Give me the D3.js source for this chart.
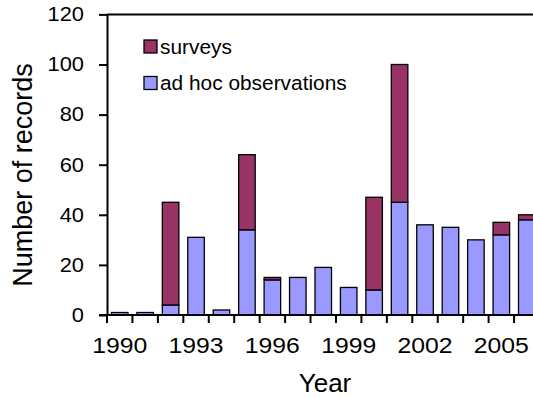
<!DOCTYPE html>
<html>
<head>
<meta charset="utf-8">
<script src="https://cdn.jsdelivr.net/npm/d3@7"></script>
<style>
  html, body { margin: 0; padding: 0; background: #fff; overflow: hidden; }
  svg { display: block; }
  text { font-family: "Liberation Sans", Arial, Helvetica, sans-serif; fill: #000; }
</style>
</head>
<body>
<div id="chart"></div>
<script>
// Records per year, split by source
const years = [1990, 1991, 1992, 1993, 1994, 1995, 1996, 1997, 1998, 1999, 2000, 2001, 2002, 2003, 2004, 2005, 2006];
const adHoc = [1, 1, 4, 31, 2, 34, 14, 15, 19, 11, 10, 45, 36, 35, 30, 32, 38];
const surveys = [0, 0, 41, 0, 0, 30, 1, 0, 0, 0, 37, 55, 0, 0, 0, 5, 2];
const yTicks = [0, 20, 40, 60, 80, 100, 120];
const xTickLabels = [1990, 1993, 1996, 1999, 2002, 2005];
const seriesNames = ["ad hoc observations", "surveys"];
const legendOrder = ["surveys", "ad hoc observations"];
const colors = { "surveys": "#993366", "ad hoc observations": "#9999ff" };

const W = 533, H = 398;
const svg = d3.select("#chart").append("svg").attr("width", W).attr("height", H);

const x = d3.scaleBand().domain(years).range([107, 539.5]).paddingInner(0.35).paddingOuter(0.175);
const y = d3.scaleLinear().domain([0, 120]).range([315, 14.4]);

// Text drawn slightly wide, as in the exported figure
function place(sel, fx, fy, sx) {
  return sel.attr("transform", (d, i) => `translate(${fx(d, i)},${fy(d, i)}) scale(${sx},1)`);
}

const rows = years.map((yr, i) => ({ year: yr, "ad hoc observations": adHoc[i], "surveys": surveys[i] }));
const stacked = d3.stack().keys(seriesNames)(rows);

// Stacked bars
svg.append("g").selectAll("g").data(stacked).join("g")
  .attr("fill", d => colors[d.key])
  .selectAll("rect").data(d => d.filter(s => s[1] - s[0] > 0)).join("rect")
  .attr("x", d => x(d.data.year))
  .attr("width", x.bandwidth())
  .attr("y", d => y(d[1]))
  .attr("height", d => y(d[0]) - y(d[1]))
  .attr("stroke", "#000")
  .attr("stroke-width", 1.3);

// Frame line along the top of the plot
svg.append("line")
  .attr("x1", x.range()[0]).attr("x2", x.range()[1])
  .attr("y1", y(120)).attr("y2", y(120))
  .attr("stroke", "#000").attr("stroke-width", 2);

// Y axis
const yAxis = svg.append("g").attr("transform", `translate(${x.range()[0]},0)`)
  .call(d3.axisLeft(y).tickValues(yTicks).tickSize(8).tickSizeOuter(0).tickFormat(""));
yAxis.select(".domain").attr("stroke-width", 2);
yAxis.selectAll(".tick line").attr("stroke-width", 2);
const yl = svg.append("g").selectAll("text").data(yTicks).join("text")
  .attr("text-anchor", "end")
  .attr("dy", "0.35em")
  .attr("font-size", 19.5)
  .text(d => d);
place(yl, () => 84, d => y(d), 1.12);

// X axis: baseline, boundary ticks, labels every third year
const gx = svg.append("g");
gx.append("line")
  .attr("x1", x.range()[0] - 8).attr("x2", x.range()[1])
  .attr("y1", y(0)).attr("y2", y(0))
  .attr("stroke", "#000").attr("stroke-width", 2);
const half = x.step() * x.paddingInner() / 2;
gx.selectAll("line.tk").data(years).join("line").attr("class", "tk")
  .attr("x1", d => x(d) - half).attr("x2", d => x(d) - half)
  .attr("y1", y(0)).attr("y2", y(0) + 8)
  .attr("stroke", "#000").attr("stroke-width", 2);
const xl = gx.selectAll("text").data(xTickLabels).join("text")
  .attr("text-anchor", "middle")
  .attr("font-size", 22.5)
  .text(d => d);
place(xl, d => x(d) + x.bandwidth() / 2, () => y(0) + 38, 1.1);

// Axis titles
svg.append("text")
  .attr("x", 325).attr("y", 391.5)
  .attr("text-anchor", "middle").attr("font-size", 26)
  .text("Year");
svg.append("text")
  .attr("transform", "translate(31.5,175) rotate(-90)")
  .attr("text-anchor", "middle").attr("font-size", 27)
  .text("Number of records");

// Legend
const lg = svg.append("g").selectAll("g").data(legendOrder).join("g")
  .attr("transform", (d, i) => `translate(144,${40 + i * 36.5})`);
lg.append("rect").attr("width", 13).attr("height", 13)
  .attr("fill", d => colors[d]).attr("stroke", "#000").attr("stroke-width", 1.3);
const lt = lg.append("text").attr("font-size", 19.5).text(d => d);
place(lt, () => 16, () => 13.5, 1.07);
</script>
</body>
</html>
